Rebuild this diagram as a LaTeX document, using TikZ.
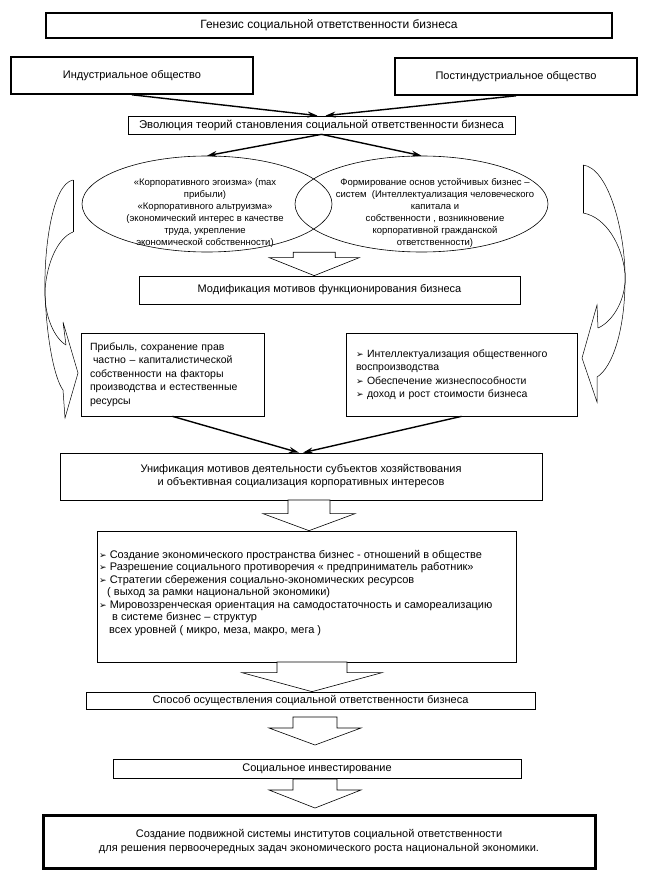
\documentclass[tikz,border=0pt]{standalone}
\usepackage{fontspec}
\setmainfont{Liberation Sans}
\newfontfamily\symfont{DejaVu Sans}
\usetikzlibrary{shapes.geometric,arrows.meta,calc}

\newcommand{\mk}{{\symfont\fontsize{9}{9}\selectfont ➢}}
\newcommand{\blockarrow}[5]{%
  \draw[hollow] let \p1=(#1), \p2=(#2) in
    (\x1-#3,\y1) -- (\x1-#3,\y2+#5) -- (\x1-#4,\y2+#5) -- (\x1,\y2)
    -- (\x1+#4,\y2+#5) -- (\x1+#3,\y2+#5) -- (\x1+#3,\y1) -- cycle;}

\begin{document}
\begin{tikzpicture}[x=1pt, y=-1pt,
  heavybox/.style={draw, line width=1.6pt, inner sep=0pt, font=\fontsize{11}{13}\selectfont},
  thinbox/.style={draw, line width=0.7pt, inner sep=0pt, align=center, font=\fontsize{11}{13}\selectfont},
  sidebox/.style={draw, line width=0.7pt, inner sep=0pt, font=\fontsize{10.5}{13.5}\selectfont},
  oval/.style={draw, ellipse, line width=0.6pt, inner sep=0pt},
  ovaltext/.style={align=center, inner sep=0pt, font=\fontsize{9.5}{12}\selectfont},
  flow/.style={line width=1.4pt, -{Stealth[length=10pt,width=6pt]}},
  hollow/.style={draw, line width=0.6pt, fill=white},
  bendarrow/.style={draw, line width=0.5pt}
]
\useasboundingbox (0,0) rectangle (666,890);

% Top level
\node[heavybox, minimum width=566pt, minimum height=25pt, font=\fontsize{12}{14}\selectfont] (genesis) at (329,25.5) {Генезис социальной ответственности бизнеса};
\node[heavybox, minimum width=242pt, minimum height=37pt] (ind) at (132,75.5) {Индустриальное общество};
\node[heavybox, minimum width=242pt, minimum height=37pt] (post) at (516,76.5) {Постиндустриальное общество};
\node[thinbox, minimum width=387pt, minimum height=18pt, font=\fontsize{11.3}{13}\selectfont] (evol) at (321.5,125) {Эволюция теорий становления социальной ответственности бизнеса};

\draw[flow] (ind.south) -- ([xshift=-4pt]evol.north);
\draw[flow] (post.south) -- ([xshift=4pt]evol.north);

% Two theories
\node[oval, minimum width=250pt, minimum height=96pt] (ell-l) at (207,204) {};
\node[oval, minimum width=253pt, minimum height=96pt] (ell-r) at (421.5,204) {};
\node[ovaltext] (txt-l) at (205,213) {«Корпоративного эгоизма» (max\\прибыли)\\«Корпоративного альтруизма»\\(экономический интерес в качестве\\труда, укрепление\\экономической собственности)};
\node[ovaltext] (txt-r) at (435,213) {Формирование основ устойчивых бизнес –\\систем\ \ (Интеллектуализация человеческого\\капитала и\\собственности , возникновение\\корпоративной гражданской\\ответственности)};

\draw[flow] (evol.south) -- (ell-l.north);
\draw[flow] (evol.south) -- (ell-r.north);

% Motives
\node[thinbox, minimum width=381pt, minimum height=28pt] (modif) at (329.5,290) {Модификация мотивов функционирования бизнеса};
\coordinate (a1) at ($(ell-l.south)!0.5!(ell-r.south)$);
\blockarrow{a1}{a1 |- modif.north}{21pt}{45pt}{18pt}

\node[sidebox, minimum width=183pt, minimum height=83pt, text width=165pt, align=left] (profit) at (172.5,374.5) {Прибыль, сохранение прав\\\hspace{3pt}частно – капиталистической\\собственности на факторы\\производства и естественные\\ресурсы};
\node[sidebox, minimum width=231pt, minimum height=83pt, text width=211pt, align=left] (intel) at (461.5,374.5) {\mk\ Интеллектуализация общественного\\воспроизводства\\\mk\ Обеспечение жизнеспособности\\\mk\ доход и рост стоимости бизнеса};

% Curved arrows on the sides
\draw[bendarrow] (73,180) -- (73,232);
\draw[bendarrow] (73,180) .. controls (52,184) and (44,250) .. (45,290) .. controls (46,335) and (54,378) .. (63,390);
\draw[bendarrow] (73,232) .. controls (58,238) and (47,262) .. (45,290) .. controls (44,315) and (54,338) .. (66,345);
\draw[bendarrow] (66,345) -- (63,322) -- (78,373) -- (65,418) -- (63,390);

\draw[bendarrow] (583,165) -- (583,213);
\draw[bendarrow] (583,165) .. controls (608,168) and (624,228) .. (625,273) .. controls (626,330) and (612,368) .. (597,377);
\draw[bendarrow] (583,213) .. controls (606,217) and (622,245) .. (625,273) .. controls (627,300) and (612,322) .. (598,328);
\draw[bendarrow] (598,328) -- (597,305) -- (582,358) -- (597,402) -- (597,377);

% Unification
\node[thinbox, minimum width=482pt, minimum height=47pt] (unif) at (301,476.5) {Унификация мотивов деятельности субъектов хозяйствования\\и объективная социализация корпоративных интересов};
\draw[flow] (profit.south) -- ([xshift=-2pt]unif.north);
\draw[flow] (intel.south) -- ([xshift=2pt]unif.north);

% Directions
\node[thinbox, minimum width=419pt, minimum height=131pt] (list) at (306.5,596.5) {};
\node[align=left, inner sep=0pt, anchor=west, font=\fontsize{11}{12.5}\selectfont] (list-txt) at (99,593) {\mk\ Создание экономического пространства бизнес - отношений в обществе\\\mk\ Разрешение социального противоречия « предприниматель работник»\\\mk\ Стратегии сбережения социально-экономических ресурсов\\\hspace{8pt}( выход за рамки национальной экономики)\\\mk\ Мировоззренческая ориентация на самодостаточность и самореализацию\\\hspace{13pt}в системе бизнес – структур\\\hspace{10pt}всех уровней ( микро, меза, макро, мега )};
\coordinate (a2) at (309,500);
\blockarrow{a2}{a2 |- list.north}{21pt}{46pt}{17pt}

% Realisation
\node[thinbox, minimum width=449pt, minimum height=17pt] (sposob) at (310.5,700.5) {Способ осуществления социальной ответственности бизнеса};
\coordinate (a3) at (312,662);
\blockarrow{a3}{a3 |- sposob.north}{35pt}{70pt}{19pt}

\node[thinbox, minimum width=408pt, minimum height=19pt] (invest) at (317,768.5) {Социальное инвестирование};
\coordinate (a4) at (315,717);
\coordinate (a4-tip) at (315,745);
\blockarrow{a4}{a4-tip}{22pt}{46pt}{17pt}

\node[heavybox, line width=3pt, minimum width=552pt, minimum height=53pt, align=center, font=\fontsize{11}{14.5}\selectfont] (result) at (319,841.5) {Создание подвижной системы институтов социальной ответственности\\для решения первоочередных задач экономического роста национальной экономики.};
\coordinate (a5) at (315,779);
\coordinate (a5-tip) at (315,808);
\blockarrow{a5}{a5-tip}{22pt}{46pt}{18pt}

\end{tikzpicture}
\end{document}
